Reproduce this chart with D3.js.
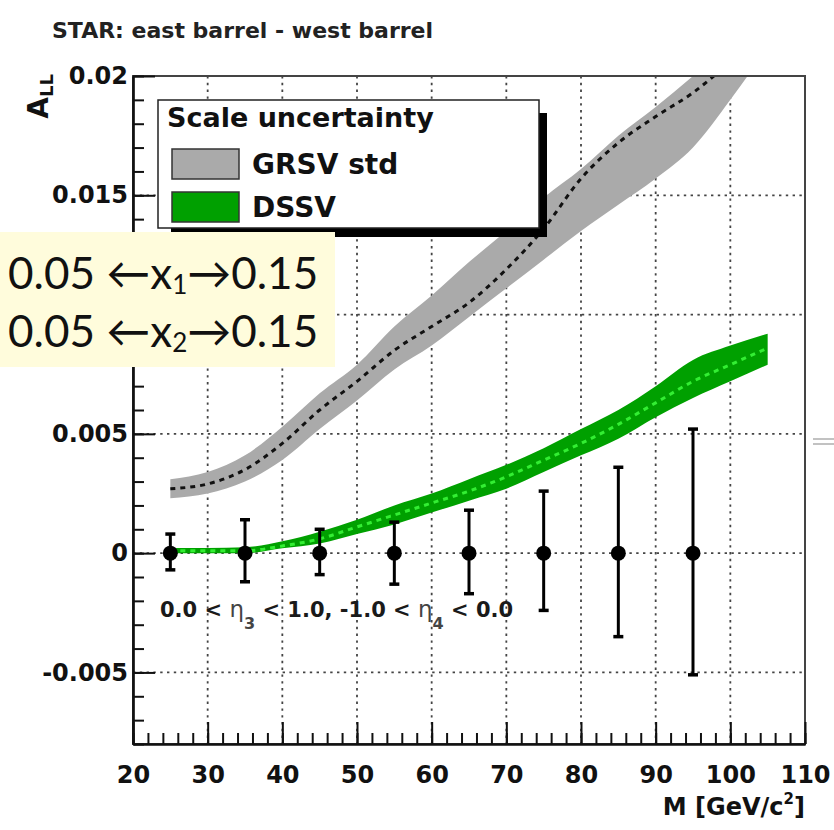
<!DOCTYPE html>
<html>
<head>
<meta charset="utf-8">
<script src="https://cdn.jsdelivr.net/npm/d3@7"></script>
<style>
  body { margin: 0; background: #fff; }
  svg { display: block; }
</style>
</head>
<body>
<svg id="chart" width="834" height="830"></svg>
<script>
// Invariant mass bins of the theory curves [GeV/c^2]
const massBins = [25, 30, 35, 40, 45, 50, 55, 60, 65, 70, 75, 80, 85, 90, 95, 100, 105];

// GRSV std: scale-uncertainty band and central curve
const grsvLow  = [0.0023, 0.0025, 0.0030, 0.0039, 0.0052, 0.0064, 0.0077, 0.0087, 0.0099, 0.0111, 0.0123, 0.0135, 0.0146, 0.0157, 0.0170, 0.0190, 0.0212];
const grsvMid  = [0.0027, 0.0029, 0.0035, 0.0046, 0.0060, 0.0072, 0.0085, 0.0095, 0.0105, 0.0119, 0.0136, 0.0157, 0.0172, 0.0183, 0.0193, 0.0206, 0.0220];
const grsvHigh = [0.0031, 0.0034, 0.0041, 0.0053, 0.0067, 0.0079, 0.0095, 0.0108, 0.0122, 0.0135, 0.0149, 0.0161, 0.0175, 0.0187, 0.0200, 0.0214, 0.0228];

// DSSV: scale-uncertainty band and central curve
const dssvLow  = [0.0000, 0.0000, 0.0000, 0.0002, 0.0004, 0.0008, 0.0012, 0.0017, 0.0022, 0.0027, 0.0034, 0.0041, 0.0048, 0.0057, 0.0065, 0.0072, 0.0079];
const dssvMid  = [0.0001, 0.0001, 0.0001, 0.0003, 0.0006, 0.0011, 0.0016, 0.0021, 0.0026, 0.0032, 0.0039, 0.0046, 0.0054, 0.0063, 0.0072, 0.0079, 0.0086];
const dssvHigh = [0.00022, 0.00022, 0.00025, 0.0005, 0.0009, 0.0014, 0.0020, 0.0025, 0.0031, 0.0037, 0.0044, 0.0052, 0.0060, 0.0070, 0.0081, 0.0087, 0.0092];

// Projected A_LL points with statistical uncertainties
const pointMass = [25, 35, 45, 55, 65, 75, 85, 95];
const pointALL  = [0, 0, 0, 0, 0, 0, 0, 0];
const errUp     = [0.0008, 0.0014, 0.0010, 0.0013, 0.0018, 0.0026, 0.0036, 0.0052];
const errDown   = [0.0007, 0.0012, 0.0009, 0.0013, 0.0017, 0.0024, 0.0035, 0.0051];

// Axis ticks (the 0.01 label sits beneath the x-range note and is not shown)
const xTickValues = [20, 30, 40, 50, 60, 70, 80, 90, 100, 110];
const yTickValues = [-0.005, 0, 0.005, 0.01, 0.015, 0.02];
const yTickLabels = ["-0.005", "0", "0.005", "", "0.015", "0.02"];

const legendTitle = "Scale uncertainty";
const seriesNames = ["GRSV std", "DSSV"];

const FONT = "'DejaVu Sans', Arial, sans-serif";
const svg = d3.select("#chart");

const frame = { left: 133, right: 805, top: 76, bottom: 744 };
const x = d3.scaleLinear().domain([20, 110]).range([frame.left, frame.right]);
const y = d3.scaleLinear().domain([-0.008, 0.02]).range([frame.bottom, frame.top]);

// Clip region for everything inside the frame
svg.append("defs").append("clipPath").attr("id", "plotClip")
  .append("rect")
  .attr("x", frame.left).attr("y", frame.top)
  .attr("width", frame.right - frame.left).attr("height", frame.bottom - frame.top);

// Title
svg.append("text")
  .attr("x", 52).attr("y", 38)
  .attr("font-family", FONT).attr("font-weight", "bold").attr("font-size", 22)
  .attr("fill", "#222")
  .text("STAR: east barrel - west barrel");

// Dotted grid
const grid = svg.append("g").attr("stroke", "#444").attr("stroke-width", 1.8)
  .attr("stroke-dasharray", "2.4,4.4").attr("fill", "none");
grid.selectAll("line.v").data(xTickValues.filter(v => v > 20 && v < 110)).join("line")
  .attr("class", "v")
  .attr("x1", d => x(d)).attr("x2", d => x(d))
  .attr("y1", frame.top).attr("y2", frame.bottom);
grid.selectAll("line.h").data(yTickValues.filter(v => v < 0.02)).join("line")
  .attr("class", "h")
  .attr("x1", frame.left).attr("x2", frame.right)
  .attr("y1", d => y(d)).attr("y2", d => y(d));

// Theory bands
const plot = svg.append("g").attr("clip-path", "url(#plotClip)");

function bandArea(lo, hi) {
  return d3.area()
    .x((d, i) => x(massBins[i]))
    .y0((d, i) => y(lo[i]))
    .y1((d, i) => y(hi[i]))
    .curve(d3.curveMonotoneX)(massBins);
}
function centralLine(vals) {
  return d3.line()
    .x((d, i) => x(massBins[i]))
    .y((d, i) => y(vals[i]))
    .curve(d3.curveMonotoneX)(massBins);
}

plot.append("path").attr("d", bandArea(grsvLow, grsvHigh)).attr("fill", "#aaaaaa");
plot.append("path").attr("d", centralLine(grsvMid))
  .attr("fill", "none").attr("stroke", "#111").attr("stroke-width", 3)
  .attr("stroke-dasharray", "5,5");

plot.append("path").attr("d", bandArea(dssvLow, dssvHigh)).attr("fill", "#00a000");
plot.append("path").attr("d", centralLine(dssvMid))
  .attr("fill", "none").attr("stroke", "#33ee33").attr("stroke-width", 3)
  .attr("stroke-dasharray", "5,5");

// Frame (top and right)
svg.append("rect")
  .attr("x", frame.left).attr("y", frame.top)
  .attr("width", frame.right - frame.left).attr("height", frame.bottom - frame.top)
  .attr("fill", "none").attr("stroke", "#444").attr("stroke-width", 2);

// Axes with inward ticks
function styleAxis(g) {
  g.select(".domain").attr("stroke", "#111").attr("stroke-width", 2.2);
  g.selectAll(".tick line").attr("stroke", "#111").attr("stroke-width", 2);
  g.selectAll(".tick text")
    .attr("font-family", FONT).attr("font-weight", "bold")
    .attr("font-size", 24).attr("fill", "#111");
  g.selectAll(".tick text").filter(function () { return this.textContent === ""; }).remove();
}

// y axis: minor then major ticks
svg.append("g").attr("transform", `translate(${frame.left},0)`)
  .call(d3.axisLeft(y).tickValues(d3.range(-8, 21).map(v => v / 1000))
    .tickSizeInner(-11).tickSizeOuter(0).tickFormat(""))
  .call(styleAxis);
svg.append("g").attr("transform", `translate(${frame.left},0)`)
  .call(d3.axisLeft(y).tickValues(yTickValues)
    .tickSizeInner(-22).tickSizeOuter(0).tickPadding(5)
    .tickFormat((d, i) => yTickLabels[i]))
  .call(styleAxis);

// x axis: minor then major ticks
svg.append("g").attr("transform", `translate(0,${frame.bottom})`)
  .call(d3.axisBottom(x).tickValues(d3.range(20, 111, 2))
    .tickSizeInner(-11).tickSizeOuter(0).tickFormat(""))
  .call(styleAxis);
svg.append("g").attr("transform", `translate(0,${frame.bottom})`)
  .call(d3.axisBottom(x).tickValues(xTickValues)
    .tickSizeInner(-22).tickSizeOuter(0).tickPadding(22)
    .tickFormat(d3.format("d")))
  .call(styleAxis);

// Axis titles
const xTitle = svg.append("text")
  .attr("x", frame.right).attr("y", 815).attr("text-anchor", "end")
  .attr("font-family", FONT).attr("font-weight", "bold").attr("font-size", 24)
  .attr("fill", "#111");
xTitle.append("tspan").text("M [GeV/c");
xTitle.append("tspan").attr("font-size", 15).attr("dy", -11).text("2");
xTitle.append("tspan").attr("dy", 11).text("]");

const yTitle = svg.append("text")
  .attr("transform", "translate(48,74) rotate(-90)")
  .attr("text-anchor", "end")
  .attr("font-family", FONT).attr("font-weight", "bold").attr("font-size", 28)
  .attr("fill", "#111");
yTitle.append("tspan").text("A");
yTitle.append("tspan").attr("font-size", 18).attr("dy", 5).text("LL");

// Data points with error bars
const pts = svg.append("g");
pointMass.forEach((m, i) => {
  const cx = x(m);
  const yTop = y(pointALL[i] + errUp[i]);
  const yBot = y(pointALL[i] - errDown[i]);
  pts.append("line").attr("x1", cx).attr("x2", cx).attr("y1", yTop).attr("y2", yBot)
    .attr("stroke", "#000").attr("stroke-width", 3);
  [yTop, yBot].forEach(yy => {
    pts.append("line").attr("x1", cx - 5).attr("x2", cx + 5).attr("y1", yy).attr("y2", yy)
      .attr("stroke", "#000").attr("stroke-width", 3.5);
  });
  pts.append("circle").attr("cx", cx).attr("cy", y(pointALL[i])).attr("r", 7.5).attr("fill", "#000");
});

// Pseudorapidity selection
const cut = svg.append("text")
  .attr("x", 160).attr("y", 617)
  .attr("font-family", FONT).attr("font-weight", "bold").attr("font-size", 21)
  .attr("fill", "#1a1a1a");
cut.append("tspan").text("0.0 < ");
cut.append("tspan").attr("font-weight", "normal").attr("fill", "#444").attr("font-size", 23).text("\u03b7");
cut.append("tspan").attr("font-size", 16).attr("fill", "#444").attr("dy", 12).text("3");
cut.append("tspan").attr("dy", -12).text(" < 1.0, -1.0 < ");
cut.append("tspan").attr("font-weight", "normal").attr("fill", "#444").attr("font-size", 23).text("\u03b7");
cut.append("tspan").attr("font-size", 16).attr("fill", "#444").attr("dy", 12).text("4");
cut.append("tspan").attr("dy", -12).text(" < 0.0");

// Legend with drop shadow
const leg = { x: 158, y: 100, w: 381, h: 128 };
svg.append("rect").attr("x", leg.x + leg.w).attr("y", leg.y + 13).attr("width", 8).attr("height", leg.h - 4)
  .attr("fill", "#000");
svg.append("rect").attr("x", leg.x + 13).attr("y", leg.y + leg.h).attr("width", leg.w - 5).attr("height", 9)
  .attr("fill", "#000");
svg.append("rect").attr("x", leg.x).attr("y", leg.y).attr("width", leg.w).attr("height", leg.h)
  .attr("fill", "#fff").attr("stroke", "#222").attr("stroke-width", 1.5);
svg.append("text").attr("x", leg.x + 9).attr("y", leg.y + 27)
  .attr("font-family", FONT).attr("font-weight", "bold").attr("font-size", 27).attr("fill", "#111")
  .text(legendTitle);
const legFill = ["#aaaaaa", "#00a000"];
seriesNames.forEach((name, i) => {
  const ry = leg.y + 49 + i * 43;
  svg.append("rect").attr("x", leg.x + 14).attr("y", ry).attr("width", 67).attr("height", 30)
    .attr("fill", legFill[i]).attr("stroke", "#333").attr("stroke-width", 1.5);
  svg.append("text").attr("x", leg.x + 94).attr("y", ry + 25)
    .attr("font-family", FONT).attr("font-weight", "bold").attr("font-size", 28).attr("fill", "#111")
    .text(name);
});

// Momentum-fraction note
svg.append("rect").attr("x", 0).attr("y", 232).attr("width", 335).attr("height", 135)
  .attr("fill", "#fffcdc");
["1", "2"].forEach((sub, i) => {
  const t = svg.append("text").attr("x", 8).attr("y", 289 + i * 58)
    .attr("font-family", "Lato, 'Open Sans', sans-serif").attr("font-size", 44).attr("fill", "#111");
  t.append("tspan").text("0.05 \u2190x");
  t.append("tspan").attr("font-size", 26).attr("dy", 5).text(sub);
  t.append("tspan").attr("dy", -5).text("\u21920.15");
});

// Edge of the neighbouring panel
svg.append("g").attr("stroke", "#999").attr("stroke-width", 1.2)
  .selectAll("line").data([439, 444]).join("line")
  .attr("x1", 813).attr("x2", 834).attr("y1", d => d).attr("y2", d => d);
</script>
</body>
</html>
